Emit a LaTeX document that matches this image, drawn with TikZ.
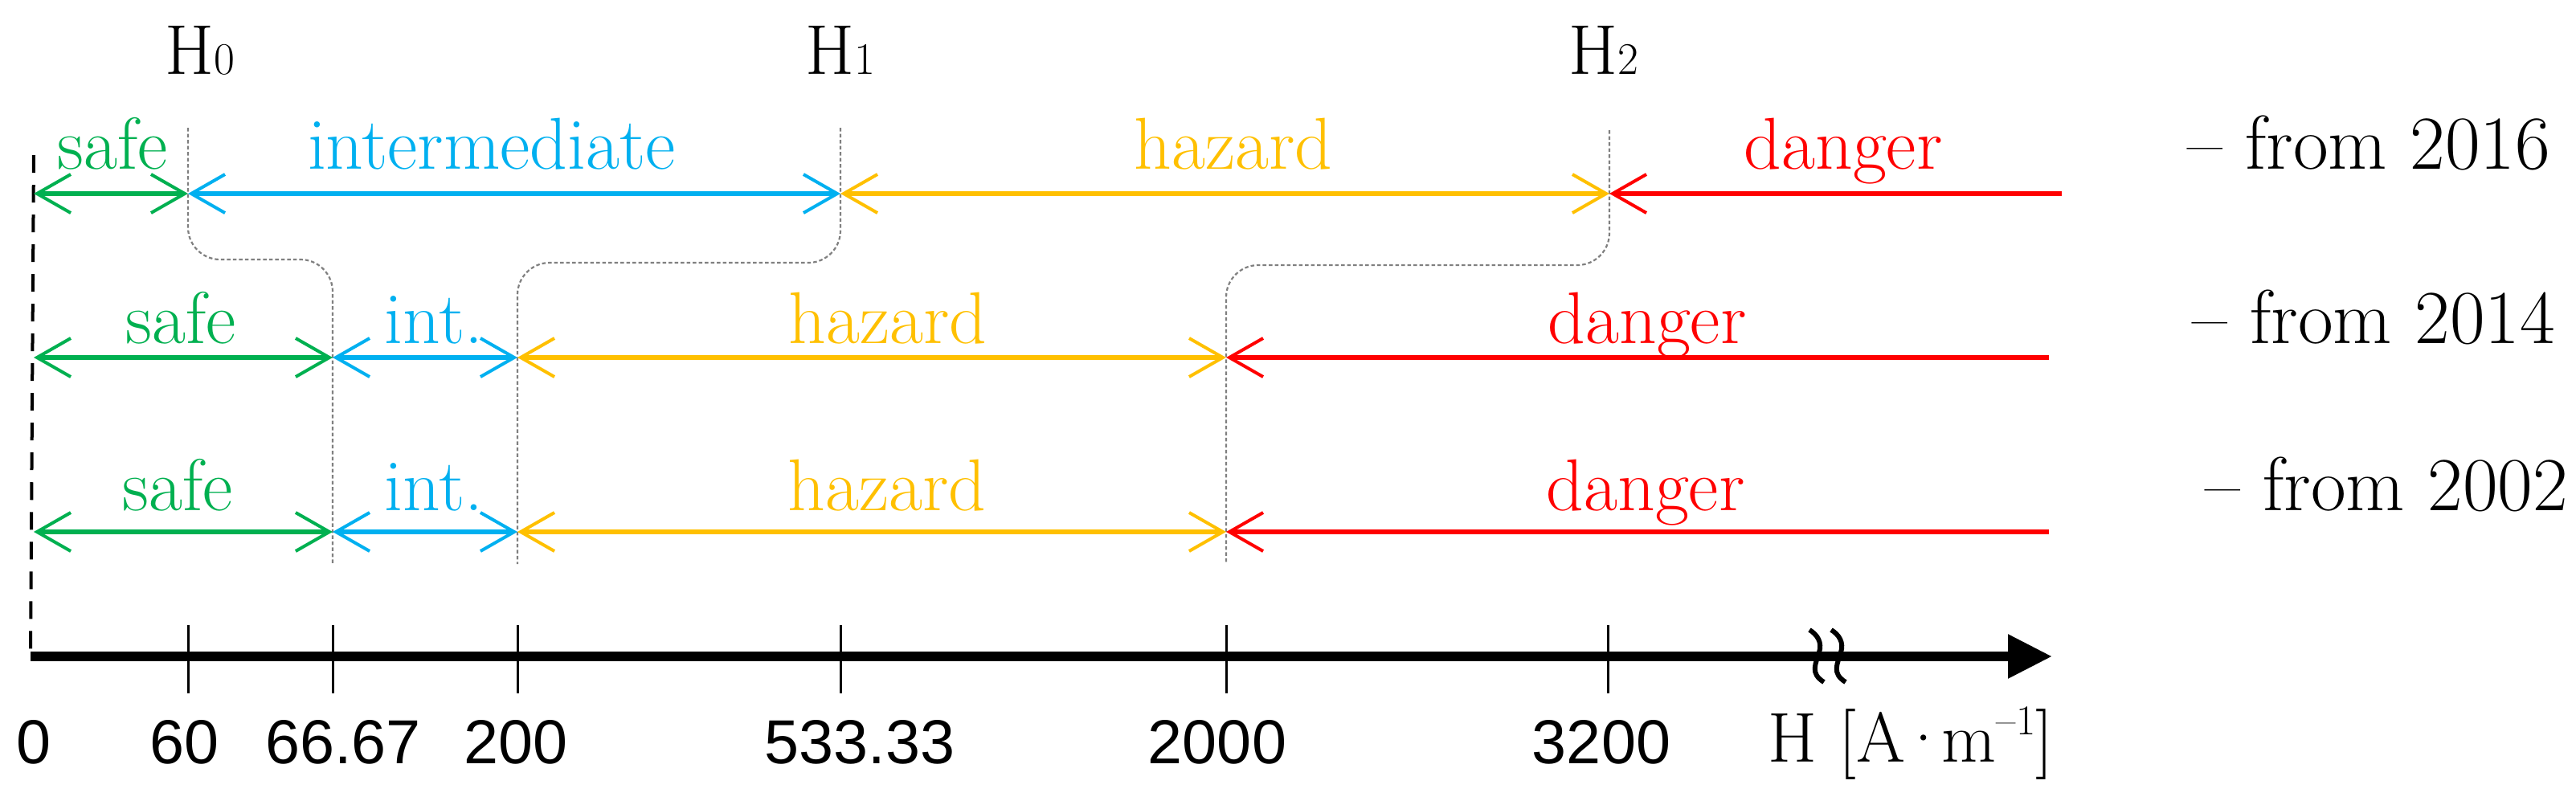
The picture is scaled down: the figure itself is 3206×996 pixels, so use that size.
\documentclass[tikz,border=0pt]{standalone}
\usepackage{fontspec}
\newfontfamily\numfont{Liberation Sans}
\usetikzlibrary{arrows.meta}
\definecolor{cgreen}{HTML}{00B050}
\definecolor{cblue}{HTML}{00B0F0}
\definecolor{cyellow}{HTML}{FFC000}
\definecolor{cred}{HTML}{FF0000}
\definecolor{cgrey}{HTML}{808080}
\begin{document}
\begin{tikzpicture}[x=0.01cm,y=-0.01cm,
  barb/.tip={Straight Barb[length=4.2mm,width=4.8mm,line width=0.4mm]},
  seg/.style={line width=0.6mm, barb-barb},
  lastseg/.style={line width=0.6mm, barb-},
  guide/.style={draw=cgrey, line width=0.22mm, dash pattern=on 0.45mm off 0.3mm, rounded corners=0.4cm},
  lab/.style={anchor=base, inner sep=0pt, font=\fontsize{26}{30}\selectfont},
  tlab/.style={anchor=base, inner sep=0pt, font=\numfont\fontsize{22}{26}\selectfont},
  hlab/.style={anchor=base, inner sep=0pt, font=\fontsize{25}{30}\selectfont},
  yearlab/.style={anchor=base, inner sep=0pt, font=\fontsize{27}{30}\selectfont},
  tick/.style={line width=0.3mm},
]
\useasboundingbox (0,0) rectangle (3206,996);

% boundary coordinates
\coordinate (a0) at (42,241);   \coordinate (a1) at (234,241);
\coordinate (a2) at (1046,241); \coordinate (a3) at (2003,241);
\coordinate (a4) at (2566,241);
\coordinate (b0) at (42,445);   \coordinate (b1) at (414,445);
\coordinate (b2) at (644,445);  \coordinate (b3) at (1526,445);
\coordinate (b4) at (2550,445);
\coordinate (c0) at (42,662);   \coordinate (c1) at (414,662);
\coordinate (c2) at (644,662);  \coordinate (c3) at (1526,662);
\coordinate (c4) at (2550,662);

% axis coordinates
\coordinate (ax0) at (38,817);  \coordinate (ax1) at (2554,817);
\coordinate (z0) at (42,193);

% guide coordinates
\coordinate (g1t) at (234,159);  \coordinate (g1h) at (414,323);  \coordinate (g1b) at (414,702);
\coordinate (g2t) at (1046,159); \coordinate (g2h) at (644,327);  \coordinate (g2b) at (644,702);
\coordinate (g3t) at (2003,162); \coordinate (g3h) at (1526,330); \coordinate (g3b) at (1526,702);

% guides
\draw[guide] (g1t) |- (g1h) -- (g1b);
\draw[guide] (g2t) |- (g2h) -- (g2b);
\draw[guide] (g3t) |- (g3h) -- (g3b);

% zero dashed line
\draw[line width=0.4mm, dash pattern=on 2.2mm off 1.5mm] (z0) -- (ax0);

% axis
\draw[line width=1.2mm, -{Triangle[length=5.5mm,width=5.2mm]}] (ax0) -- (ax1);
\foreach \x/\n in {234/t1,414/t2,644/t3,1046/t4,1526/t5,2001/t6}{
  \coordinate (\n a) at (\x,778); \coordinate (\n b) at (\x,863);
  \draw[tick] (\n a) -- (\n b);
}
% axis break
\coordinate (k1a) at (2252,784); \coordinate (k1b) at (2270,849);
\coordinate (k2a) at (2279,784); \coordinate (k2b) at (2297,849);
\draw[line width=0.6mm] (k1a) .. controls (2262,790) and (2268,800) .. (2264,812) .. controls (2260,826) and (2252,838) .. (k1b);
\draw[line width=0.6mm] (k2a) .. controls (2289,790) and (2295,800) .. (2291,812) .. controls (2287,826) and (2279,838) .. (k2b);

% row 1 (2016)
\draw[seg, cgreen] (a0) -- (a1);
\draw[seg, cblue] (a1) -- (a2);
\draw[seg, cyellow] (a2) -- (a3);
\draw[lastseg, cred] (a3) -- (a4);
% row 2 (2014)
\draw[seg, cgreen] (b0) -- (b1);
\draw[seg, cblue] (b1) -- (b2);
\draw[seg, cyellow] (b2) -- (b3);
\draw[lastseg, cred] (b3) -- (b4);
% row 3 (2002)
\draw[seg, cgreen] (c0) -- (c1);
\draw[seg, cblue] (c1) -- (c2);
\draw[seg, cyellow] (c2) -- (c3);
\draw[lastseg, cred] (c3) -- (c4);

% H labels
\node[hlab] (h0) at (249,92) {H{\fontsize{16}{16}\selectfont 0}};
\node[hlab] (h1) at (1046,92) {H{\fontsize{16}{16}\selectfont 1}};
\node[hlab] (h2) at (1996,92) {H{\fontsize{16}{16}\selectfont 2}};

% row labels
\node[lab, text=cgreen]  (s1) at (140,210) {safe};
\node[lab, text=cblue]   (i1) at (612,210) {intermediate};
\node[lab, text=cyellow] (z1) at (1535,210) {hazard};
\node[lab, text=cred]    (d1) at (2294,210) {danger};
\node[lab, text=cgreen]  (s2) at (225,427) {safe};
\node[lab, text=cblue]   (i2) at (540,427) {int.};
\node[lab, text=cyellow] (z2) at (1105,427) {hazard};
\node[lab, text=cred]    (d2) at (2050,427) {danger};
\node[lab, text=cgreen]  (s3) at (221,635) {safe};
\node[lab, text=cblue]   (i3) at (540,635) {int.};
\node[lab, text=cyellow] (z3) at (1104,635) {hazard};
\node[lab, text=cred]    (d3) at (2048,635) {danger};

% year labels
\node[yearlab] (y1) at (2948,210) {– from 2016};
\node[yearlab] (y2) at (2954,427) {– from 2014};
\node[yearlab] (y3) at (2970,635) {– from 2002};

% tick labels
\node[tlab] (n0) at (42,950) {0};
\node[tlab] (n1) at (230,950) {60};
\node[tlab] (n2) at (427,950) {66.67};
\node[tlab] (n3) at (642,950) {200};
\node[tlab] (n4) at (1070,950) {533.33};
\node[tlab] (n5) at (1515,950) {2000};
\node[tlab] (n6) at (1993,950) {3200};
\node[hlab] (nu) at (2378,948) {H [A\kern-0.1em·\kern-0.1em m\raisebox{0.38em}{\fontsize{15}{15}\selectfont –1}]};
\end{tikzpicture}
\end{document}
